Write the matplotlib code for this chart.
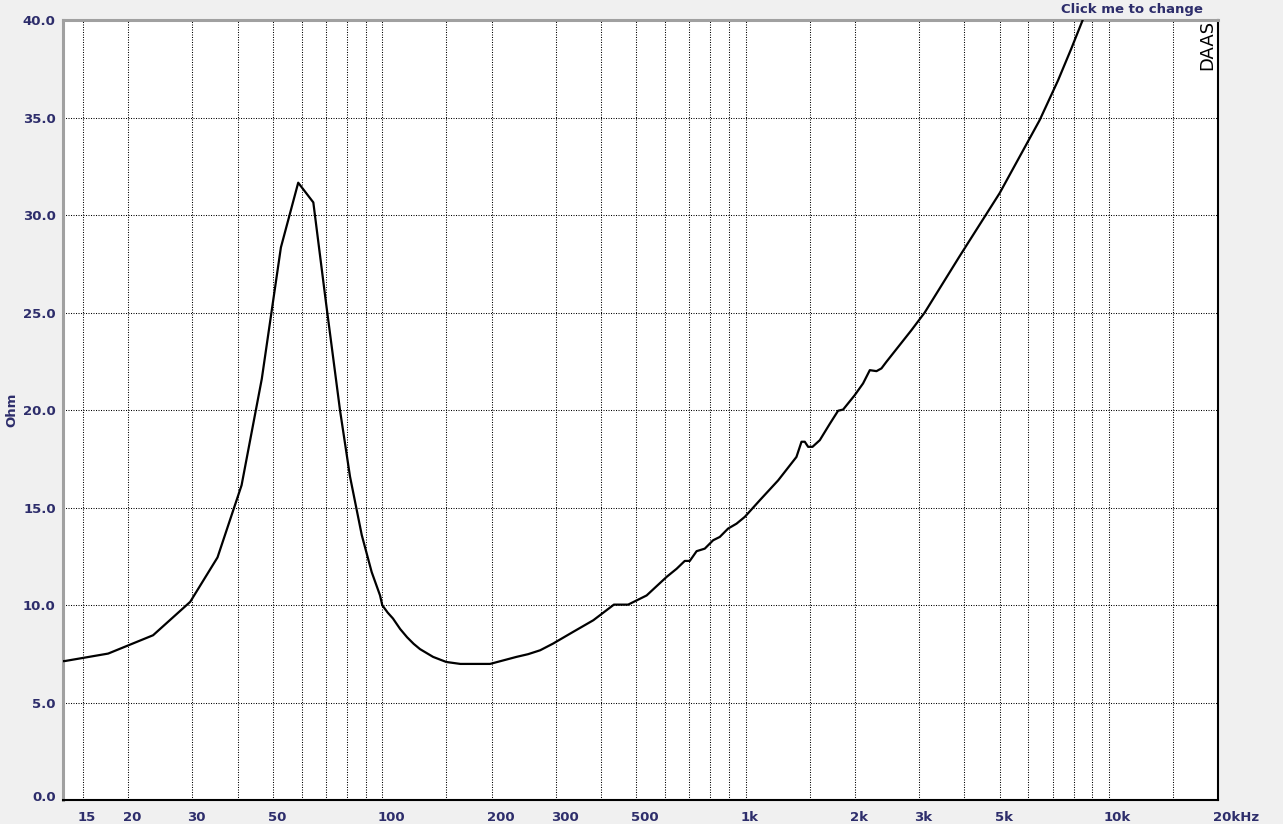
"""Impedance curve (Ohm vs frequency), DAAS style."""
import matplotlib
matplotlib.use('Agg')
import matplotlib.pyplot as plt
import matplotlib.transforms as mtransforms

freq_hz = [13.2, 13.4, 17.6, 23.4, 29.6, 35.2, 41.0, 46.6, 52.6, 58.7, 64.6,
           69.9, 76.5, 81.5, 87.8, 93.5, 98.6, 100, 103.5, 107, 112, 117,
           122, 127, 138, 150, 164, 198, 234, 252, 272, 295, 335, 381, 434,
           475, 534, 606, 646, 680, 702, 733, 772, 814, 849, 895, 944, 995,
           1094, 1229, 1380, 1425, 1455, 1486, 1528, 1600, 1705, 1797, 1855,
           1997, 2105, 2197, 2292, 2365, 2441, 2860, 3110, 3884, 5004, 6447,
           7240, 7883, 8467, 9000]
ohm = [7.13, 7.14, 7.52, 8.46, 10.17, 12.45, 16.15, 21.6, 28.34, 31.66, 30.65,
       25.6, 20.0, 16.6, 13.6, 11.7, 10.5, 10.0, 9.62, 9.32, 8.78, 8.36,
       8.02, 7.75, 7.35, 7.09, 6.99, 6.99, 7.35, 7.49, 7.69, 8.03, 8.63,
       9.23, 10.03, 10.03, 10.5, 11.45, 11.87, 12.27, 12.27, 12.77, 12.9,
       13.33, 13.5, 13.93, 14.18, 14.53, 15.38, 16.4, 17.6, 18.38, 18.38,
       18.12, 18.12, 18.46, 19.3, 19.97, 20.03, 20.77, 21.37, 22.05, 22.0,
       22.14, 22.48, 24.1, 25.0, 27.9, 31.13, 34.87, 36.9, 38.55, 40.0, 41.3]

grid_freqs = [15, 20, 30, 40, 50, 60, 70, 80, 90, 100, 150, 200, 300, 400,
              500, 600, 700, 800, 900, 1000, 1500, 2000, 3000, 4000, 5000,
              6000, 7000, 8000, 9000, 10000, 15000]
label_freqs = [15, 20, 30, 50, 100, 200, 300, 500, 1000, 2000, 3000, 5000,
               10000, 20000]
label_texts = ['15', '20', '30', '50', '100', '200', '300', '500', '1k', '2k',
               '3k', '5k', '10k', '20kHz']
y_ticks = [0, 5, 10, 15, 20, 25, 30, 35, 40]

NAVY = '#2d2d6b'
BG = '#f0f0f0'

fig = plt.figure(figsize=(12.83, 8.24), dpi=100, facecolor=BG)
ax = fig.add_axes([0.0489, 0.0288, 0.9007, 0.9469])
ax.set_facecolor('white')

ax.set_xscale('log')
ax.set_xlim(13.2, 20000)
ax.set_ylim(0, 40)

# dotted grid, drawn by hand so the 15/150/1.5k/15k lines are included
for f in grid_freqs:
    ax.axvline(f, color='black', lw=0.75, ls=(0, (1, 1.4)), zorder=1)
for y in y_ticks[1:-1]:
    ax.axhline(y, color='black', lw=0.75, ls=(0, (1, 1.4)), zorder=1)

ax.plot(freq_hz, ohm, color='black', lw=1.6, zorder=3)

ax.xaxis.set_minor_locator(matplotlib.ticker.NullLocator())
ax.set_xticks(label_freqs)
ax.set_xticklabels(label_texts)
ax.set_yticks(y_ticks)
ax.set_yticklabels([f'{v:.1f}' for v in y_ticks])
ax.tick_params(length=0, colors=NAVY, labelsize=9.5)
ax.tick_params(axis='x', pad=8)
ax.tick_params(axis='y', pad=5)
shift = mtransforms.ScaledTranslation(-5 / 100, 0, fig.dpi_scale_trans)
for lab in ax.get_xticklabels():
    lab.set_horizontalalignment('left')
    lab.set_transform(lab.get_transform() + shift)
    lab.set_fontweight('bold')
raise_zero = mtransforms.ScaledTranslation(0, 4 / 100, fig.dpi_scale_trans)
for i, lab in enumerate(ax.get_yticklabels()):
    lab.set_fontweight('bold')
    if i == 0:
        lab.set_transform(lab.get_transform() + raise_zero)

for side in ('left', 'top'):
    ax.spines[side].set_color('#a0a0a0')
    ax.spines[side].set_linewidth(2.2)
for side in ('bottom', 'right'):
    ax.spines[side].set_color('black')
    ax.spines[side].set_linewidth(1.5)

fig.text(12 / 1283, 1 - 410 / 824, 'Ohm', rotation=90, ha='center',
         va='center', color=NAVY, fontsize=9.5, fontweight='bold')
fig.text(1132 / 1283, 1 - 10 / 824, 'Click me to change', ha='center',
         va='center', color=NAVY, fontsize=9.5, fontweight='bold')
fig.text(1207 / 1283, 1 - 45 / 824, 'DAAS', rotation=90, ha='center',
         va='center', color='black', fontsize=13,
         family=['Liberation Sans Narrow', 'DejaVu Sans'])

fig.savefig('out.png', dpi=100, facecolor=BG)
